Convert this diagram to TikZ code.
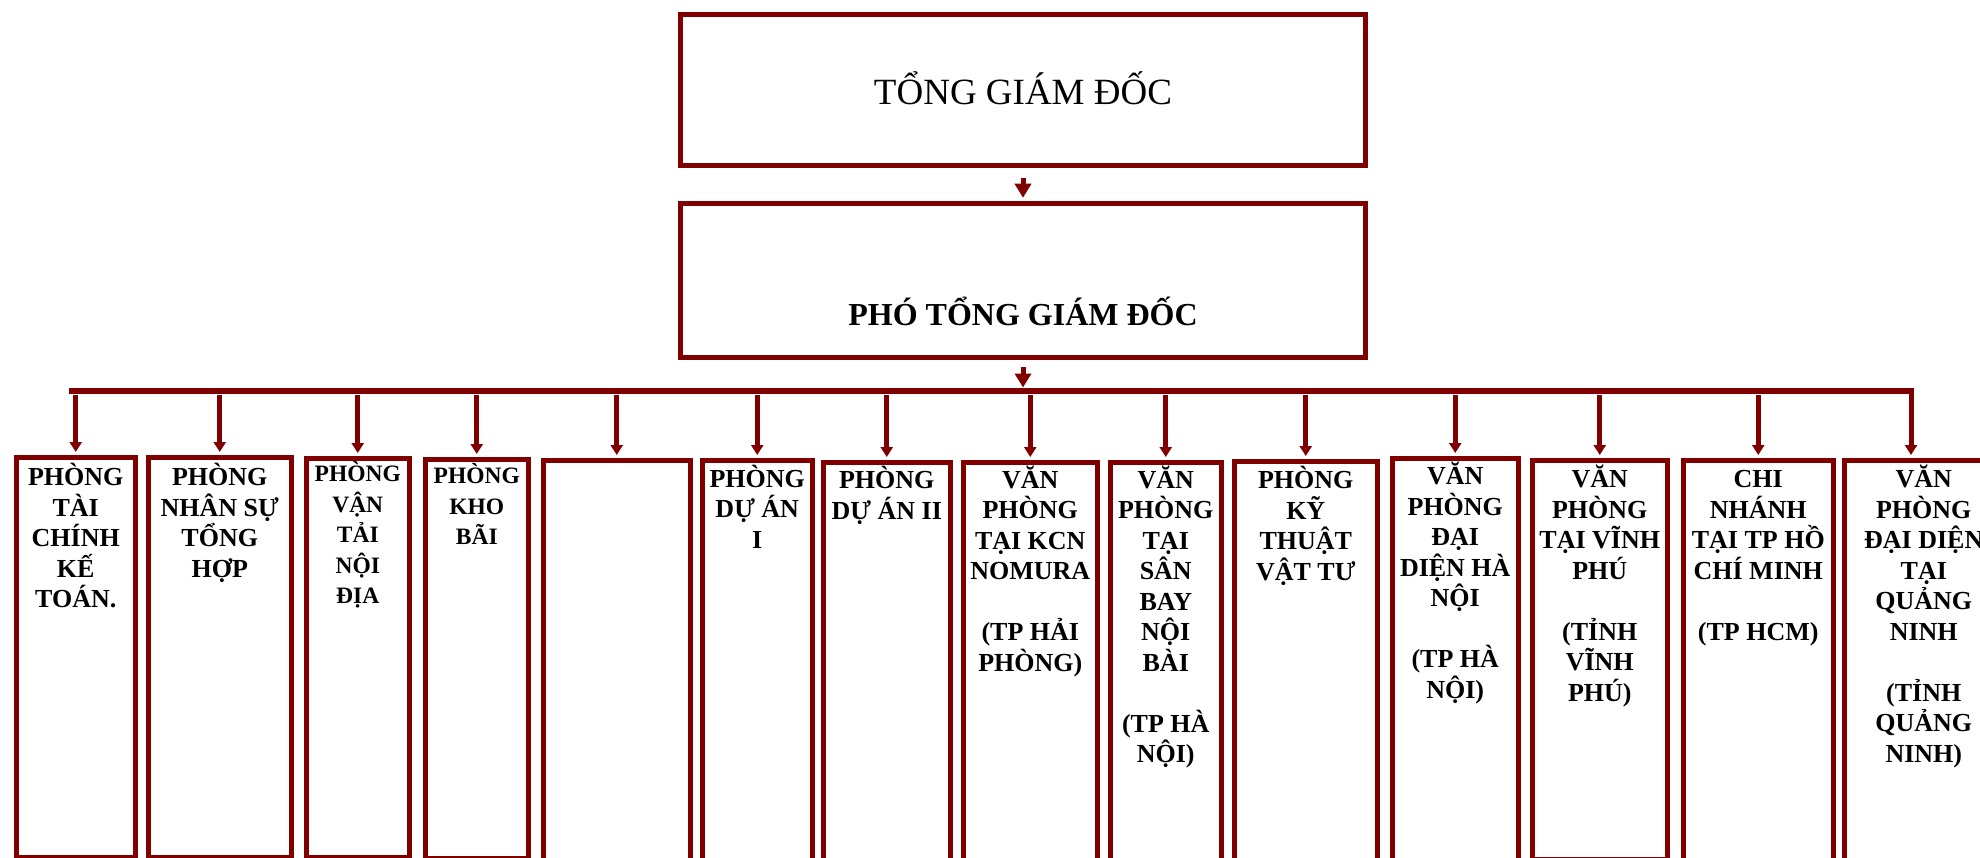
\documentclass[tikz,border=0pt]{standalone}
\usepackage{fontspec}
\setmainfont{Liberation Serif}
\usetikzlibrary{positioning,arrows.meta}
\definecolor{OrgRed}{HTML}{800000}
\newcommand{\capstrut}{\rule{0pt}{25pt}}

\begin{document}
\begin{tikzpicture}[
      x=1pt, y=-1pt,
      head/.style={draw=OrgRed, line width=5.5pt, inner sep=0pt, text depth=0pt},
      dept/.style={draw=OrgRed, line width=5.5pt, anchor=north west, inner sep=0pt},
      depttext/.style={align=center, inner sep=0pt,
        font=\bfseries\fontsize{26}{30.5}\selectfont},
      smalltext/.style={align=center, inner sep=0pt,
        font=\bfseries\fontsize{23.5}{30.5}\selectfont},
      link/.style={OrgRed, line width=5pt, -{Triangle[width=16pt,length=14pt]}},
      drop/.style={OrgRed, line width=5pt, -{Triangle[width=12pt,length=10pt]},
        shorten >=2.5pt, shorten <=4pt},
      busline/.style={OrgRed, line width=6pt, line cap=rect}
    ]
      \useasboundingbox (0,0) rectangle (1980,858);
      \clip (0,0) rectangle (1980,858);

      % management
      \node[head, minimum width=685pt, minimum height=151pt, text height=30pt,
        font=\fontsize{37}{44}\selectfont] (ceo) at (1023,90) {TỔNG GIÁM ĐỐC};
      \node[head, minimum width=685pt, minimum height=154pt, text height=91pt,
        font=\bfseries\fontsize{32}{38}\selectfont] (vp) at (1023,280.5) {PHÓ TỔNG GIÁM ĐỐC};

      % departments
      \node[dept, minimum width=119pt, minimum height=400pt]   (d1)  at (13.5,454.5)  {};
      \node[dept, minimum width=143pt, minimum height=400pt]   (d2)  at (145.5,454.5) {};
      \node[dept, minimum width=103pt, minimum height=399pt]   (d3)  at (303.5,455.5) {};
      \node[dept, minimum width=103pt, minimum height=399.5pt] (d4)  at (422.5,456.5) {};
      \node[dept, minimum width=147pt, minimum height=430pt]   (d5)  at (540.5,457.5) {};
      \node[dept, minimum width=110pt, minimum height=430pt]   (d6)  at (699.5,457.5) {};
      \node[dept, minimum width=127pt, minimum height=430pt]   (d7)  at (820.5,459.5) {};
      \node[dept, minimum width=134pt, minimum height=430pt]   (d8)  at (960.5,459.5) {};
      \node[dept, minimum width=111pt, minimum height=430pt]   (d9)  at (1107.5,459.5) {};
      \node[dept, minimum width=143pt, minimum height=430pt]   (d10) at (1231.5,458.5) {};
      \node[dept, minimum width=126pt, minimum height=430pt]   (d11) at (1389.5,455.5) {};
      \node[dept, minimum width=135pt, minimum height=399.5pt] (d12) at (1529.5,457.5) {};
      \node[dept, minimum width=150pt, minimum height=430pt]   (d13) at (1680.5,457.5) {};
      \node[dept, minimum width=159pt, minimum height=430pt]   (d14) at (1841.5,457.5) {};

      \node[depttext, below=6pt of d1.north]   (t1)  {\capstrut PHÒNG\\TÀI\\CHÍNH\\KẾ\\TOÁN.};
      \node[depttext, below=6pt of d2.north]   (t2)  {\capstrut PHÒNG\\NHÂN SỰ\\TỔNG\\HỢP};
      \node[smalltext, below=1pt of d3.north]  (t3)  {\capstrut PHÒNG\\VẬN\\TẢI\\NỘI\\ĐỊA};
      \node[smalltext, below=2pt of d4.north]  (t4)  {\capstrut PHÒNG\\KHO\\BÃI};
      \node[depttext, below=4.5pt of d6.north] (t6)  {\capstrut PHÒNG\\DỰ ÁN\\I};
      \node[depttext, below=4pt of d7.north]   (t7)  {\capstrut PHÒNG\\DỰ ÁN II};
      \node[depttext, below=3.5pt of d8.north] (t8)
        {\capstrut VĂN\\PHÒNG\\TẠI KCN\\NOMURA\\[30.5pt](TP HẢI\\PHÒNG)};
      \node[depttext, below=3.5pt of d9.north] (t9)
        {\capstrut VĂN\\PHÒNG\\TẠI\\SÂN\\BAY\\NỘI\\BÀI\\[30.5pt](TP HÀ\\NỘI)};
      \node[depttext, below=5pt of d10.north]  (t10) {\capstrut PHÒNG\\KỸ\\THUẬT\\VẬT TƯ};
      \node[depttext, below=4pt of d11.north]  (t11)
        {\capstrut VĂN\\PHÒNG\\ĐẠI\\DIỆN HÀ\\NỘI\\[30.5pt](TP HÀ\\NỘI)};
      \node[depttext, below=5pt of d12.north]  (t12)
        {\capstrut VĂN\\PHÒNG\\TẠI VĨNH\\PHÚ\\[30.5pt](TỈNH\\VĨNH\\PHÚ)};
      \node[depttext, below=5pt of d13.north]  (t13)
        {\capstrut CHI\\NHÁNH\\TẠI TP HỒ\\CHÍ MINH\\[30.5pt](TP HCM)};
      \node[depttext, below=5pt of d14.north]  (t14)
        {\capstrut VĂN\\PHÒNG\\ĐẠI DIỆN\\TẠI\\QUẢNG\\NINH\\[30.5pt](TỈNH\\QUẢNG\\NINH)};

      % connectors
      \coordinate (busL) at (72,391);
      \coordinate (busR) at (1911,391);
      \draw[busline] (busL) -- (busR);
      \draw[link, shorten >=3pt] ([yshift=-9.5pt]ceo.south) -- (vp.north);
      \draw[link, shorten >=3.5pt] ([yshift=-6.5pt]vp.south) -- (vp.south |- busL);
      \draw[drop] (d1.north |- busL) -- (d1.north); \draw[drop] (d2.north |- busL) -- (d2.north);
      \draw[drop] (d3.north |- busL) -- (d3.north); \draw[drop] (d4.north |- busL) -- (d4.north);
      \draw[drop] (d5.north |- busL) -- (d5.north); \draw[drop] (d6.north |- busL) -- (d6.north);
      \draw[drop] (d7.north |- busL) -- (d7.north); \draw[drop] (d8.north |- busL) -- (d8.north);
      \draw[drop] (d9.north |- busL) -- (d9.north); \draw[drop] (d10.north |- busL) -- (d10.north);
      \draw[drop] (d11.north |- busL) -- (d11.north); \draw[drop] (d12.north |- busL) -- (d12.north);
      \draw[drop] (d13.north |- busL) -- (d13.north);
      \draw[drop, shorten <=0pt] (busR) -- (busR |- d14.north);
    \end{tikzpicture}
\end{document}
